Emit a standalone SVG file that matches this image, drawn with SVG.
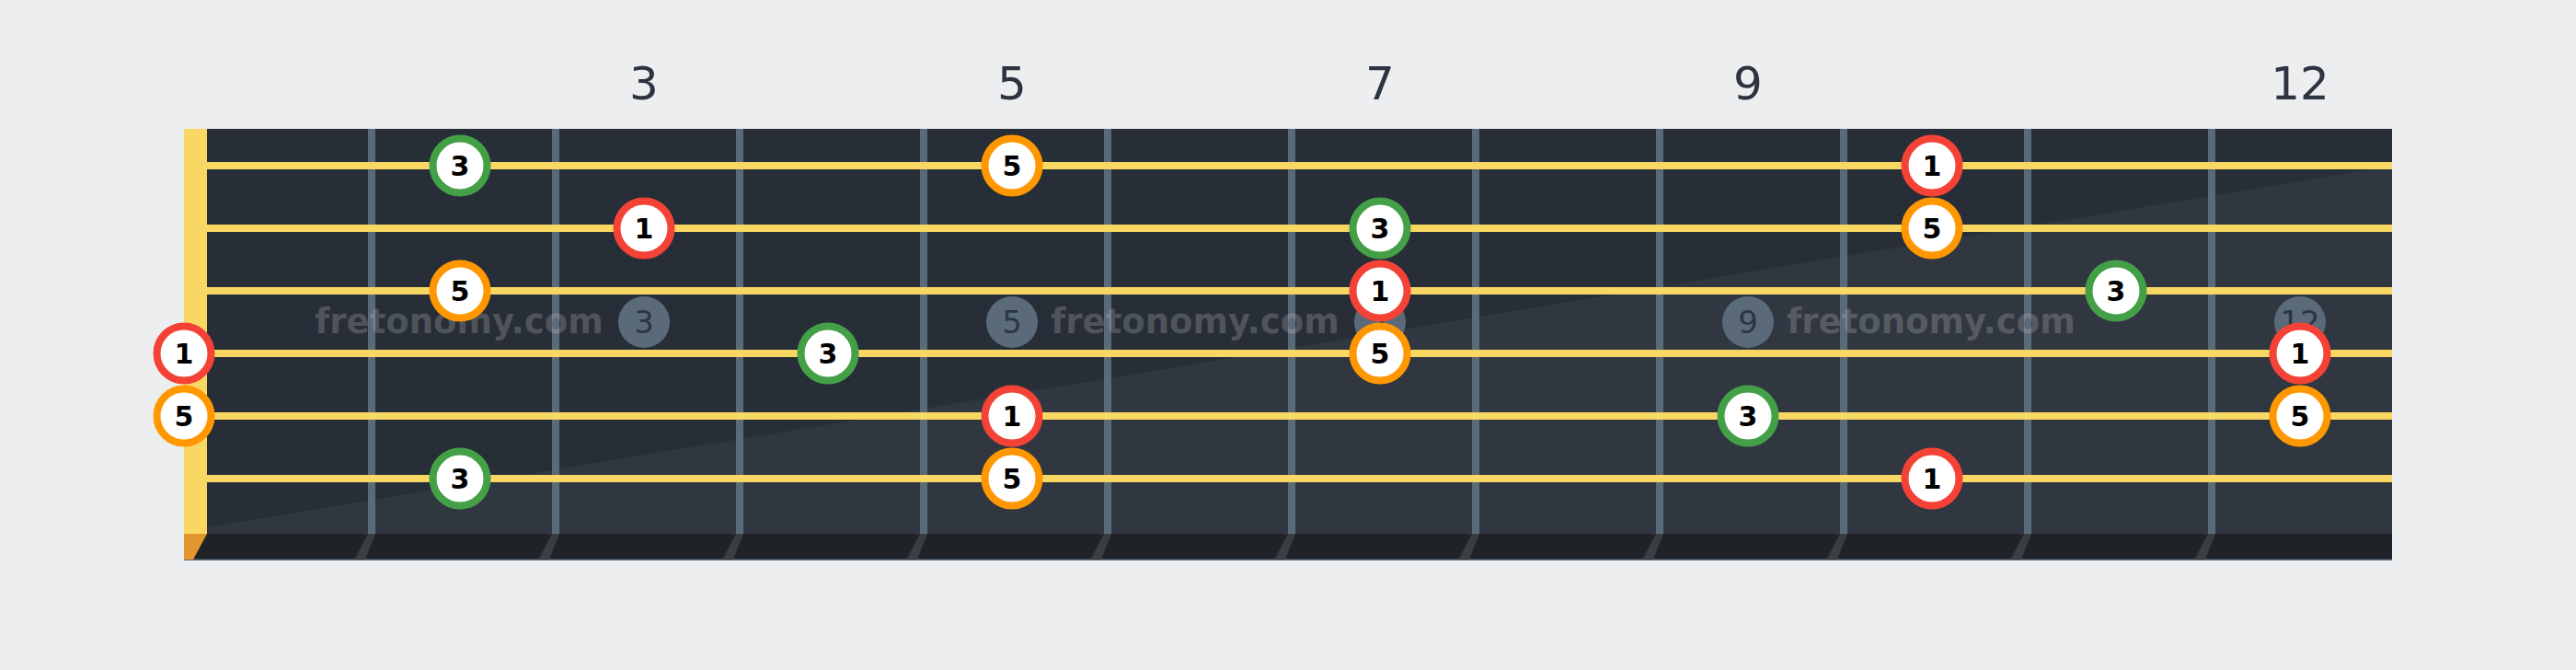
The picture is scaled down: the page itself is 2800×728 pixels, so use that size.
<svg xmlns="http://www.w3.org/2000/svg" width="2800" height="728" viewBox="0 0 2800 728">
<defs>
<style>
.fnum{font-family:"DejaVu Sans","Liberation Sans",sans-serif;font-size:50px;fill:#2b3440;text-anchor:middle}
.fret{fill:#5a6a78}
.slant{fill:#3a3d41}
.str{fill:#f8d862}
.mk circle{fill:#5a6a78}
.mk text{font-family:"DejaVu Sans","Liberation Sans",sans-serif;font-size:34px;fill:#2c3540;text-anchor:middle}
.wm{font-family:"DejaVu Sans","Liberation Sans",sans-serif;font-weight:bold;font-size:37px;fill:#c8c8c8;fill-opacity:0.25;text-anchor:middle}
.note circle{fill:#ffffff;stroke-width:8}
.note text{font-family:"DejaVu Sans","Liberation Sans",sans-serif;font-weight:bold;font-size:30px;fill:#000;text-anchor:middle}
.r circle{stroke:#f44336}
.g circle{stroke:#43a047}
.o circle{stroke:#ff9800}
</style>
</defs>
<rect width="2800" height="728" fill="#edeef0"/>
<g id="fret-numbers">
<text class="fnum" x="700" y="108">3</text>
<text class="fnum" x="1100" y="108">5</text>
<text class="fnum" x="1500" y="108">7</text>
<text class="fnum" x="1900" y="108">9</text>
<text class="fnum" x="2500" y="108">12</text>
</g>
<g id="board">
<rect x="200" y="140" width="2400" height="440" fill="#272e37"/>
<polygon points="225,573 2600,180 2600,580 225,580" fill="#303740"/>
<rect x="200" y="580" width="2400" height="28" fill="#1f2328"/>
<rect x="200" y="607.5" width="2400" height="1.5" fill="#5f6f80"/>
</g>
<g id="frets">
<rect class="fret" x="400" y="140" width="8" height="440"/>
<rect class="fret" x="600" y="140" width="8" height="440"/>
<rect class="fret" x="800" y="140" width="8" height="440"/>
<rect class="fret" x="1000" y="140" width="8" height="440"/>
<rect class="fret" x="1200" y="140" width="8" height="440"/>
<rect class="fret" x="1400" y="140" width="8" height="440"/>
<rect class="fret" x="1600" y="140" width="8" height="440"/>
<rect class="fret" x="1800" y="140" width="8" height="440"/>
<rect class="fret" x="2000" y="140" width="8" height="440"/>
<rect class="fret" x="2200" y="140" width="8" height="440"/>
<rect class="fret" x="2400" y="140" width="8" height="440"/>
<polygon class="slant" points="400,580 408,580 397,608 385,608"/>
<polygon class="slant" points="600,580 608,580 597,608 585,608"/>
<polygon class="slant" points="800,580 808,580 797,608 785,608"/>
<polygon class="slant" points="1000,580 1008,580 997,608 985,608"/>
<polygon class="slant" points="1200,580 1208,580 1197,608 1185,608"/>
<polygon class="slant" points="1400,580 1408,580 1397,608 1385,608"/>
<polygon class="slant" points="1600,580 1608,580 1597,608 1585,608"/>
<polygon class="slant" points="1800,580 1808,580 1797,608 1785,608"/>
<polygon class="slant" points="2000,580 2008,580 1997,608 1985,608"/>
<polygon class="slant" points="2200,580 2208,580 2197,608 2185,608"/>
<polygon class="slant" points="2400,580 2408,580 2397,608 2385,608"/>
</g>
<g id="nut">
<rect x="200" y="140" width="25" height="440" fill="#f8d862"/>
<polygon points="200,580 225,580 210,608 200,608" fill="#e3952e"/>
</g>
<g id="markers" class="mk">
<circle cx="700" cy="350" r="28"/><text x="700" y="362">3</text>
<circle cx="1100" cy="350" r="28"/><text x="1100" y="362">5</text>
<circle cx="1500" cy="350" r="28"/><text x="1500" y="362">7</text>
<circle cx="1900" cy="350" r="28"/><text x="1900" y="362">9</text>
<circle cx="2500" cy="350" r="28"/><text x="2500" y="362">12</text>
</g>
<g id="watermarks">
<text class="wm" x="499" y="362">fretonomy.com</text>
<text class="wm" x="1299" y="362">fretonomy.com</text>
<text class="wm" x="2099" y="362">fretonomy.com</text>
</g>
<g id="strings">
<rect class="str" x="225" y="176" width="2375" height="8"/>
<rect class="str" x="225" y="244" width="2375" height="8"/>
<rect class="str" x="225" y="312" width="2375" height="8"/>
<rect class="str" x="225" y="380" width="2375" height="8"/>
<rect class="str" x="225" y="448" width="2375" height="8"/>
<rect class="str" x="225" y="516" width="2375" height="8"/>
</g>
<g id="notes">
<g id="n1-2" class="note g"><circle cx="500" cy="180" r="29.5"/><text x="500" y="191">3</text></g>
<g id="n1-5" class="note o"><circle cx="1100" cy="180" r="29.5"/><text x="1100" y="191">5</text></g>
<g id="n1-10" class="note r"><circle cx="2100" cy="180" r="29.5"/><text x="2100" y="191">1</text></g>
<g id="n2-3" class="note r"><circle cx="700" cy="248" r="29.5"/><text x="700" y="259">1</text></g>
<g id="n2-7" class="note g"><circle cx="1500" cy="248" r="29.5"/><text x="1500" y="259">3</text></g>
<g id="n2-10" class="note o"><circle cx="2100" cy="248" r="29.5"/><text x="2100" y="259">5</text></g>
<g id="n3-2" class="note o"><circle cx="500" cy="316" r="29.5"/><text x="500" y="327">5</text></g>
<g id="n3-7" class="note r"><circle cx="1500" cy="316" r="29.5"/><text x="1500" y="327">1</text></g>
<g id="n3-11" class="note g"><circle cx="2300" cy="316" r="29.5"/><text x="2300" y="327">3</text></g>
<g id="n4-0" class="note r"><circle cx="200" cy="384" r="29.5"/><text x="200" y="395">1</text></g>
<g id="n4-4" class="note g"><circle cx="900" cy="384" r="29.5"/><text x="900" y="395">3</text></g>
<g id="n4-7" class="note o"><circle cx="1500" cy="384" r="29.5"/><text x="1500" y="395">5</text></g>
<g id="n4-12" class="note r"><circle cx="2500" cy="384" r="29.5"/><text x="2500" y="395">1</text></g>
<g id="n5-0" class="note o"><circle cx="200" cy="452" r="29.5"/><text x="200" y="463">5</text></g>
<g id="n5-5" class="note r"><circle cx="1100" cy="452" r="29.5"/><text x="1100" y="463">1</text></g>
<g id="n5-9" class="note g"><circle cx="1900" cy="452" r="29.5"/><text x="1900" y="463">3</text></g>
<g id="n5-12" class="note o"><circle cx="2500" cy="452" r="29.5"/><text x="2500" y="463">5</text></g>
<g id="n6-2" class="note g"><circle cx="500" cy="520" r="29.5"/><text x="500" y="531">3</text></g>
<g id="n6-5" class="note o"><circle cx="1100" cy="520" r="29.5"/><text x="1100" y="531">5</text></g>
<g id="n6-10" class="note r"><circle cx="2100" cy="520" r="29.5"/><text x="2100" y="531">1</text></g>
</g>
</svg>
